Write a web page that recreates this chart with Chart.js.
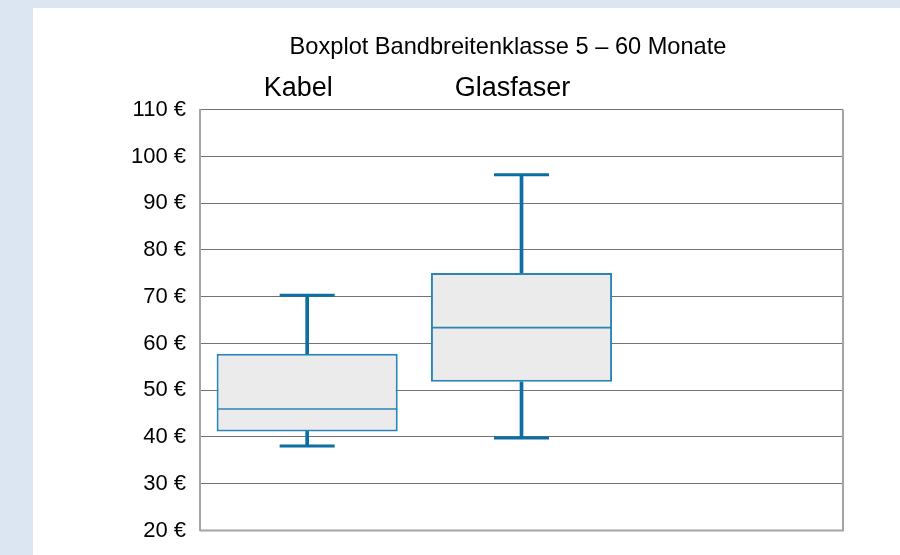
<!DOCTYPE html>
<html>
<head>
<meta charset="utf-8">
<script src="https://cdn.jsdelivr.net/npm/chart.js@4"></script>
<style>
  html, body { margin: 0; padding: 0; width: 900px; height: 555px; background: #dce6f2; overflow: hidden; }
  #panel { position: absolute; left: 33px; top: 8px; width: 867px; height: 547px; background: #ffffff; }
  canvas { display: block; }
</style>
</head>
<body>
<div id="panel"><canvas id="c" width="867" height="547"></canvas></div>
<script>
const titleText = 'Boxplot Bandbreitenklasse 5 – 60 Monate';
const categories = ['Kabel', 'Glasfaser', ''];
const minValues = [38.1, 39.8];
const q1Values = [41.2, 51.8];
const medianValues = [46.0, 63.4];
const q3Values = [57.8, 75.1];
const maxValues = [70.3, 96.1];
const yTicks = [20, 30, 40, 50, 60, 70, 80, 90, 100, 110];

const boxBorder = '#2a84b5';
const whiskerColor = '#0b6fa4';
const fontFamily = "'Liberation Sans', Arial, sans-serif";

const boxData = q1Values.map((v, i) => [v, q3Values[i]]);
const upperWhisker = q3Values.map((v, i) => [v, maxValues[i]]);
const lowerWhisker = q1Values.map((v, i) => [minValues[i], v]);

const frame = {
  id: 'frame',
  afterDatasetsDraw(chart) {
    const a = chart.chartArea, ctx = chart.ctx;
    ctx.save();
    ctx.strokeStyle = '#a3a3a9';
    ctx.lineWidth = 2;
    ctx.beginPath();
    ctx.moveTo(a.left, a.bottom);
    ctx.lineTo(a.right, a.bottom);
    ctx.lineTo(a.right, a.top);
    ctx.stroke();
    ctx.restore();
  }
};

new Chart(document.getElementById('c'), {
  data: {
    labels: categories,
    datasets: [
      { type: 'line', label: 'Median', data: medianValues, showLine: false, pointStyle: 'line',
        pointRadius: 90, pointBorderWidth: 1.6, pointBorderColor: boxBorder, order: 0 },
      { type: 'line', label: 'Max', data: maxValues, showLine: false, pointStyle: 'line',
        pointRadius: 27.5, pointBorderWidth: 3, pointBorderColor: whiskerColor, order: 0 },
      { type: 'line', label: 'Min', data: minValues, showLine: false, pointStyle: 'line',
        pointRadius: 27.5, pointBorderWidth: 3, pointBorderColor: whiskerColor, order: 0 },
      { type: 'bar', label: 'Box', data: boxData, backgroundColor: '#ebebeb', borderColor: boxBorder,
        borderWidth: 2, borderSkipped: false, grouped: false, barPercentage: 0.845, categoryPercentage: 1, order: 1 },
      { type: 'bar', label: 'Upper', data: upperWhisker, backgroundColor: whiskerColor, borderWidth: 0,
        grouped: false, barThickness: 3, order: 2 },
      { type: 'bar', label: 'Lower', data: lowerWhisker, backgroundColor: whiskerColor, borderWidth: 0,
        grouped: false, barThickness: 3, order: 2 }
    ]
  },
  options: {
    responsive: false,
    animation: false,
    events: [],
    layout: { autoPadding: false, padding: { left: 140, right: 57, top: 0, bottom: 24.5 } },
    plugins: {
      legend: { display: false },
      tooltip: { enabled: false },
      title: {
        display: true, text: titleText, color: '#000000',
        font: { family: fontFamily, size: 23.6, weight: 'normal' },
        padding: { top: 25.5, bottom: 6.5 }
      }
    },
    scales: {
      x: {
        type: 'category', position: 'top', offset: true,
        afterFit(scale) { scale.paddingLeft = 0; scale.paddingRight = 0; },
        grid: { display: false, drawTicks: false },
        border: { display: false },
        ticks: { color: '#000000', font: { family: fontFamily, size: 27 }, padding: 4.5, labelOffset: -9 }
      },
      y: {
        type: 'linear', min: 20, max: 110,
        afterFit(scale) {
          scale.width = 27;
          scale.paddingTop = 0;
          scale.paddingBottom = 0;
          scale._computeLabelArea = () => undefined;
        },
        afterBuildTicks(scale) { scale.ticks = yTicks.map(v => ({ value: v })); },
        grid: { color: '#737373', lineWidth: 1, drawTicks: false },
        border: { display: true, color: '#a3a3a9', width: 2 },
        ticks: { color: '#000000', font: { family: fontFamily, size: 22 }, padding: 14,
                 callback: v => v + ' €' }
      }
    }
  },
  plugins: [frame]
});
</script>
</body>
</html>
